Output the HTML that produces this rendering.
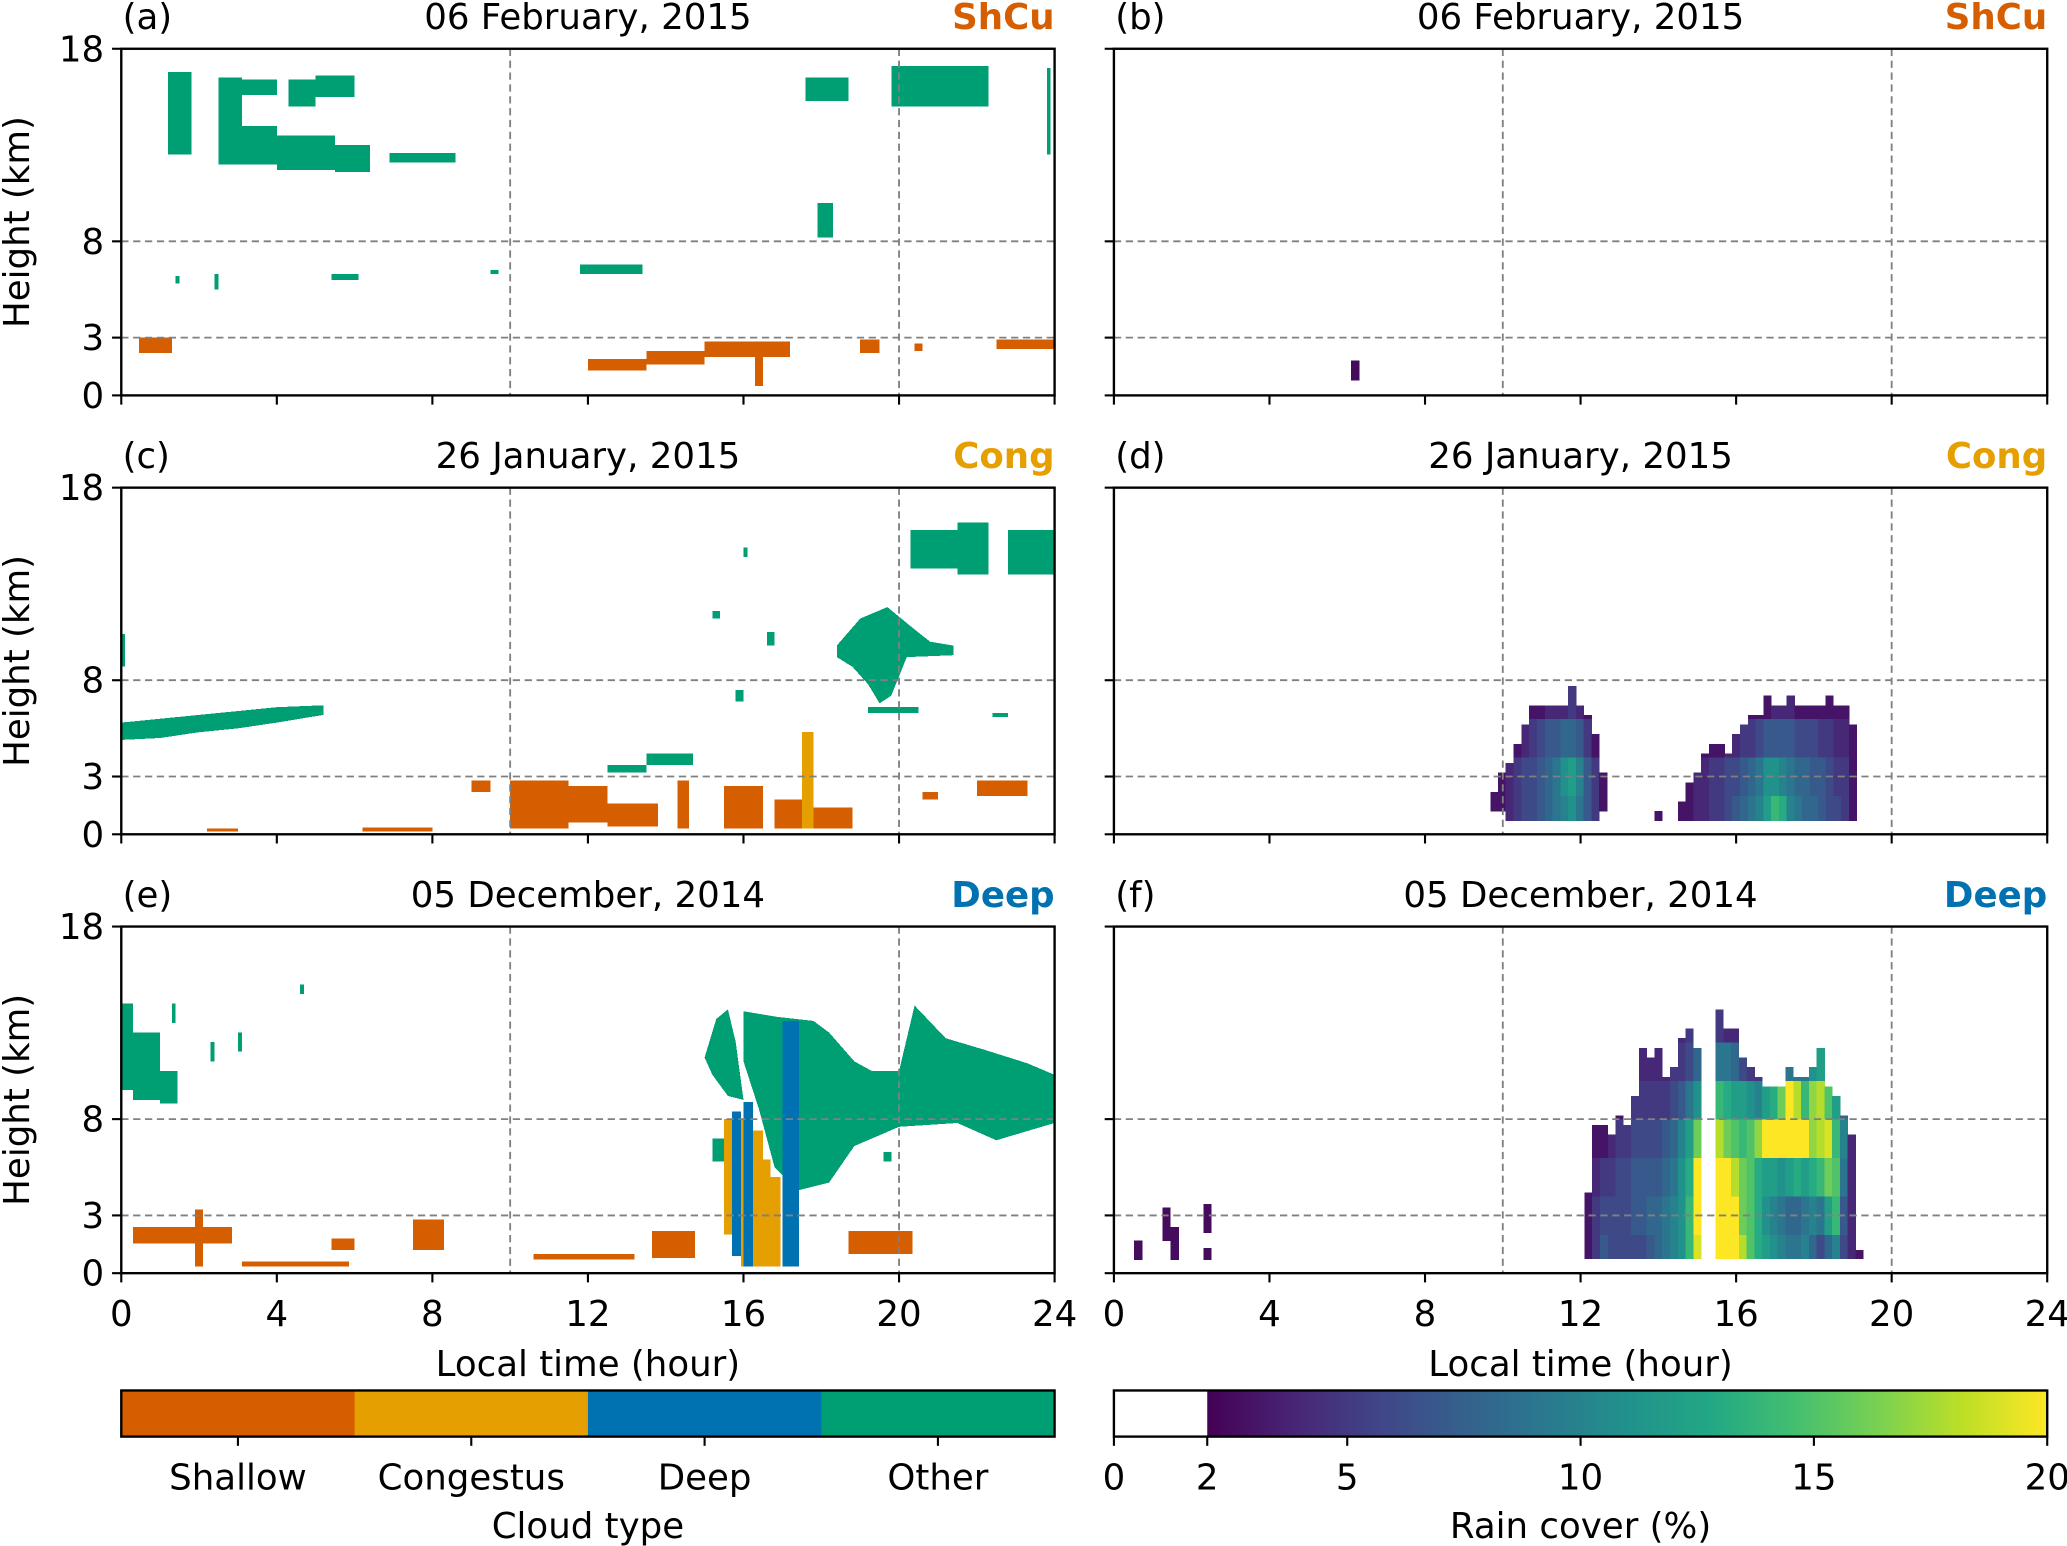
<!DOCTYPE html>
<html><head><meta charset="utf-8"><title>Cloud type and rain cover</title>
<style>
html,body{margin:0;padding:0;background:#fff;}
svg{display:block;font-family:"DejaVu Sans","Liberation Sans",sans-serif;}
</style></head>
<body>
<svg id="fig" width="2067" height="1546" viewBox="0 0 1568 1173" preserveAspectRatio="none" xmlns="http://www.w3.org/2000/svg"></svg>
<script>
// ---------------- DATA ----------------
const typeNames = ["Shallow","Congestus","Deep","Other"];
const xTicks = [0,4,8,12,16,20,24];
const yTicks = [0,3,8,18];
const rainTicks = [0,2,5,10,15,20];
const titles = ["06 February, 2015","26 January, 2015","05 December, 2014"];
const caseLabels = ["ShCu","Cong","Deep"];
const panelLetters = [["(a)","(b)"],["(c)","(d)"],["(e)","(f)"]];

// cloud masks: [type, t0, t1, zbot, ztop]
const cloudsA = [
[3,1.2,1.8,12.5,16.8],[3,2.5,3.1,14.0,16.5],[3,3.1,4.0,15.6,16.4],[3,4.3,5.0,15.0,16.4],[3,5.0,6.0,15.5,16.6],
[3,2.5,4.0,12.0,14.0],[3,4.0,5.5,11.7,13.5],[3,5.5,6.4,11.6,13.0],[3,6.9,8.6,12.1,12.6],
[3,17.6,18.7,15.3,16.5],[3,19.8,22.3,15.0,17.1],[3,23.8,23.9,12.5,17.0],
[3,11.8,13.4,6.3,6.8],[3,5.4,6.1,6.0,6.3],[3,1.4,1.5,5.8,6.2],[3,2.4,2.5,5.5,6.3],[3,9.5,9.7,6.3,6.5],[3,17.9,18.3,8.2,10.0],
[0,0.45,1.3,2.2,3.0],[0,12.0,13.5,1.3,1.9],[0,13.5,15.0,1.6,2.3],[0,15.0,17.2,2.0,2.8],[0,16.3,16.5,0.5,2.2],
[0,19.0,19.5,2.2,2.9],[0,20.4,20.6,2.3,2.7],[0,22.5,24,2.4,2.9]
];
const cloudsC = [
[3,0,0.1,8.7,10.4],[3,20.3,21.5,13.8,15.8],[3,21.5,22.3,13.5,16.2],[3,22.8,24,13.5,15.8],
[3,19.2,20.5,6.3,6.6],[3,12.5,13.5,3.2,3.6],[3,13.5,14.7,3.6,4.2],
[3,16.0,16.1,14.4,14.9],[3,16.6,16.8,9.8,10.5],[3,15.2,15.4,11.2,11.6],[3,15.8,16.0,6.9,7.5],[3,22.4,22.8,6.1,6.3],
[0,9.0,9.5,2.2,2.8],[0,10.0,11.5,0.3,2.8],[0,11.5,12.5,0.6,2.5],[0,12.5,13.8,0.4,1.6],[0,14.3,14.6,0.3,2.8],
[0,15.5,16.5,0.3,2.5],[0,16.8,17.5,0.3,1.8],[0,17.8,18.8,0.3,1.4],[0,20.6,21.0,1.8,2.2],[0,22.0,23.3,2.0,2.8],
[0,2.2,3.0,0.15,0.3],[0,6.2,8.0,0.15,0.35],
[1,17.5,17.8,0.3,5.3]
];
const cloudsE = [
[3,0,0.3,9.5,14.0],[3,0.3,1.0,9.0,12.5],[3,1.0,1.45,8.8,10.5],
[3,2.3,2.4,11,12],[3,3.0,3.1,11.5,12.5],[3,4.6,4.7,14.5,15],[3,1.3,1.4,13,14],
[3,15.2,15.6,5.8,7.0],[3,19.6,19.8,5.8,6.3],
[2,17.0,17.43,0.35,13.1],[2,15.7,15.93,0.9,8.4],[2,16.0,16.25,0.35,8.9],
[1,15.93,16.0,0.35,8.0],[1,16.25,16.5,0.35,7.4],[1,16.5,16.7,0.35,5.9],[1,16.7,16.95,0.35,5.0],[1,15.5,15.7,2.0,8.0],
[0,0.3,2.85,1.55,2.4],[0,1.9,2.1,0.35,3.3],[0,3.1,5.85,0.35,0.6],[0,5.4,6.0,1.2,1.8],[0,7.5,8.3,1.2,2.8],
[0,10.6,13.2,0.7,1.0],[0,13.65,14.75,0.8,2.2],[0,18.7,20.35,1.0,2.2]
];
// polygon clouds ("Other"): [t, z] vertices
const polyC = [
[[0,5.8],[1,6.0],[2,6.2],[3,6.4],[4,6.6],[5.2,6.7],[5.2,6.2],[4,5.8],[3,5.5],[2,5.3],[1,5.0],[0,4.9]],
[[18.4,9.8],[19,11.2],[19.7,11.8],[20.3,10.8],[20.8,10],[21.4,9.8],[21.4,9.3],[20.2,9.2],[20,8.2],[19.8,7.2],[19.5,6.8],[19.2,7.8],[18.8,8.7],[18.4,9.2]]
];
const polyE = [
[[16.0,13.6],[16.9,13.3],[17.8,13.1],[18.2,12.5],[18.85,11],[19.3,10.5],[20,10.5],[20.4,13.9],[21.2,12.2],[22.2,11.6],[23.3,10.9],[24,10.3],[24,7.8],[22.5,6.9],[21.5,7.8],[20,7.6],[18.85,6.6],[18.2,4.7],[17.4,4.3],[16.8,5.5],[16.4,8.5],[16.0,11]],
[[15.0,11.2],[15.3,13.2],[15.6,13.7],[15.8,12],[16.0,9.0],[15.6,9.2],[15.2,10.3]]
];

// rain cover: column start time (0.2 h wide), bottom, top, values per 2-km band
const rainBt = [6.1];
const rainBbot = [0.8];
const rainBtop = [1.8];
const rainBvals = [[2.5]];

const rainDt = [9.68,9.88,10.07,10.28,10.48,10.68,10.88,11.08,11.28,11.48,11.68,11.88,12.08,12.28,12.48,
13.9,14.5,14.7,14.9,15.1,15.3,15.5,15.7,15.9,16.1,16.3,16.5,16.7,16.9,17.1,17.3,17.5,17.7,17.9,18.1,18.3,18.5,18.7,18.9];
const rainDbot = [1.2,1.2,0.7,0.7,0.7,0.7,0.7,0.7,0.7,0.7,0.7,0.7,0.7,0.7,1.2,
0.7,0.7,0.7,0.7,0.7,0.7,0.7,0.7,0.7,0.7,0.7,0.7,0.7,0.7,0.7,0.7,0.7,0.7,0.7,0.7,0.7,0.7,0.7,0.7];
const rainDtop = [2.2,3.2,3.7,4.7,5.7,6.7,6.7,6.7,6.7,6.7,7.7,6.7,6.2,5.2,3.2,
1.2,1.7,2.7,3.2,4.2,4.7,4.7,4.2,5.2,5.7,6.2,6.2,7.2,6.7,6.7,7.2,6.7,6.7,6.7,6.7,7.2,6.7,6.7,5.7];
const rainDvals = [[3],[3,3],[4,4],[5,5,3],[6,6,4],[6,6,5,3],[7,7,6,3],[8,8,7,4],[9,9,7,4],[10,11,8,4],[11,12,8,5],[9,10,7,4],[7,7,5,3],[5,5,3],[3,3],
[3],[3],[3,3],[4,4],[4,4,3],[5,5,3],[5,5,3],[6,6,4],[7,6,4],[8,7,5],[9,8,5,3],[10,9,6,3],[12,11,7,3],[14,11,7,4],[13,10,7,4],[10,9,7,4],[9,8,6,3],[8,8,6,3],[8,7,6,3],[7,7,5,3],[6,6,5,3],[6,5,4,3],[5,5,4,3],[3,3,3]];

const rainFt = [12.1,12.3,12.5,12.7,12.9,13.1,13.3,13.5,13.7,13.9,14.1,14.3,14.5,14.7,14.9,
15.47,15.67,15.87,16.07,16.27,16.47,16.67,16.87,17.07,17.27,17.47,17.67,17.87,18.07,18.27,18.47,18.67,18.87,19.07,
0.52,1.25,1.46,1.46,2.3,2.3];
const rainFbot = [0.75,0.75,0.75,0.75,0.75,0.75,0.75,0.75,0.75,0.75,0.75,0.75,0.75,0.75,0.75,
0.75,0.75,0.75,0.75,0.75,0.75,0.75,0.75,0.75,0.75,0.75,0.75,0.75,0.75,0.75,0.75,0.75,0.75,0.75,
0.7,1.7,1.4,0.7,2.1,0.7];
const rainFtop = [4.2,7.7,7.7,7.2,8.2,7.7,9.2,11.7,11.2,11.7,10.2,10.7,12.2,12.7,11.7,
13.7,12.7,12.7,11.2,10.7,10.2,9.7,9.7,9.7,10.7,10.2,10.2,10.7,11.7,9.7,9.2,8.2,7.2,1.2,
1.7,3.4,2.4,1.4,3.6,1.3];
const rainFvals = [[3],[5,5,4,3],[7,6,5,3],[6,6,5,4,3],[6,6,6,5,3],[6,6,6,5,4],[6,7,7,6,5,3],[6,7,7,6,5,4],[7,8,7,6,5,4],[8,8,7,6,5,4],[9,9,8,7,5,4],[10,10,9,8,6,5,3],[11,11,11,10,7,5,4],[14,14,13,12,9,6,5],[19,20,20,16,11,8,6],
[20,20,20,18,14,9,5],[20,20,20,16,13,9,4],[20,20,18,15,12,8,4],[18,16,16,14,12,6],[15,15,15,15,11,5],[13,13,13,17,10,5],[12,11,12,20,12,6],[11,10,12,20,13,6],[10,9,11,20,16,8],[9,8,12,20,20,9],[9,8,13,20,18,9],[10,9,12,20,14,9],[8,10,13,17,17,11],[6,9,14,18,18,12],[8,12,16,19,15,8],[10,14,15,14,12],[6,7,9,10,8],[4,4,4,4,4],[3],
[2.5],[2.5],[2.5],[2.5],[2.5],[2.5]];

// ---------------- RENDERING ----------------
const NS = "http://www.w3.org/2000/svg";
const svg = document.getElementById('fig');
const FS = 27;
const typeColors = ["#d55e00","#e69f00","#0072b2","#009e73"];
const viridis = ["#440154","#482475","#414487","#355f8d","#2a788e","#21918c","#22a884","#44bf70","#7ad151","#bddf26","#fde725"];
function hex(c){return [parseInt(c.substr(1,2),16),parseInt(c.substr(3,2),16),parseInt(c.substr(5,2),16)];}
function vcol(v){
  let f=(v-2)/18; f=Math.max(0,Math.min(1,f));
  const p=f*(viridis.length-1), i=Math.min(Math.floor(p),viridis.length-2), r=p-i;
  const a=hex(viridis[i]), b=hex(viridis[i+1]);
  return "rgb("+a.map((x,k)=>Math.round(x+(b[k]-x)*r)).join(",")+")";
}
function mk(tag, attrs, parent){
  const e=document.createElementNS(NS,tag);
  for(const k in attrs) e.setAttribute(k, attrs[k]);
  (parent||svg).appendChild(e); return e;
}
function txt(s, x, y, size, anchor, parent, extra){
  const e=mk('text',Object.assign({x:x,y:y,'font-size':size,'text-anchor':anchor||'middle',fill:'#000'},extra||{}),parent);
  e.textContent=s; return e;
}
const colX=[92,845], rowY=[37,370,703], PW=708, PH=263;
function xs(c,t){return colX[c]+t/24*PW;}
function ys(r,z){return rowY[r]+PH-z/18*PH;}

const cloudSets=[cloudsA,cloudsC,cloudsE];
const polySets=[[],polyC,polyE];
const rainSets=[[rainBt,rainBbot,rainBtop,rainBvals],[rainDt,rainDbot,rainDtop,rainDvals],[rainFt,rainFbot,rainFtop,rainFvals]];

for(let r=0;r<3;r++){
  for(let c=0;c<2;c++){
    const g=mk('g',{});
    
    
    if(c===0){
      const cg=mk('g',{'shape-rendering':'crispEdges'},g);
      
      
      polySets[r].forEach(poly=>{
        const p=mk('polygon',{points:poly.map(q=>xs(c,q[0])+","+ys(r,q[1])).join(" "),fill:typeColors[3]},cg);
        
        
      });
      cloudSets[r].forEach(d=>{
        const x0=xs(c,d[1]),x1=xs(c,d[2]),y0=ys(r,d[4]),y1=ys(r,d[3]);
        const e=mk('rect',{x:x0,y:y0,width:Math.max(1.2,x1-x0),height:y1-y0,fill:typeColors[d[0]]},cg);
        
        
      });
    } else {
      const rg=mk('g',{'shape-rendering':'crispEdges'},g);
      
      
      const [ts,bs,tops,vals]=rainSets[r];
      ts.forEach((t,i)=>{
        const x0=xs(c,t), x1=xs(c,t+0.2);
        const bot=bs[i], top=tops[i], v=vals[i];
        for(let b=0;b*2<top;b++){
          const zb=Math.max(bot,b*2), zt=Math.min(top,b*2+2);
          if(zt<=zb) continue;
          const val=v[Math.min(b,v.length-1)];
          const e=mk('rect',{x:x0,y:ys(r,zt),width:x1-x0+0.3,height:ys(r,zb)-ys(r,zt)+0.3,fill:vcol(val)},rg);
          
          
        }
      });
    }
    [10,20].forEach(t=>mk('line',{x1:xs(c,t),x2:xs(c,t),y1:rowY[r],y2:rowY[r]+PH,stroke:'#808080','stroke-width':1.4,'stroke-dasharray':'5.5,3.5'},g));
    [3,8].forEach(z=>mk('line',{x1:colX[c],x2:colX[c]+PW,y1:ys(r,z),y2:ys(r,z),stroke:'#808080','stroke-width':1.4,'stroke-dasharray':'5.5,3.5'},g));
    const fr=mk('rect',{x:colX[c],y:rowY[r],width:PW,height:PH,fill:'none',stroke:'#000','stroke-width':1.8},g);
    
    
    xTicks.forEach(t=>{
      mk('line',{x1:xs(c,t),x2:xs(c,t),y1:rowY[r]+PH,y2:rowY[r]+PH+7,stroke:'#000','stroke-width':1.6},g);
      if(r===2){
        const e=txt(String(t),xs(c,t),rowY[r]+PH+40,FS,'middle',g);
        
        
      }
    });
    yTicks.forEach(z=>{
      mk('line',{x1:colX[c]-7,x2:colX[c],y1:ys(r,z),y2:ys(r,z),stroke:'#000','stroke-width':1.6},g);
      if(c===0){
        const e=txt(String(z),colX[c]-13,ys(r,z)+9.5,FS,'end',g);
        
        
      }
    });
    if(c===0){
      const cy=rowY[r]+PH/2;
      const e=txt("Height (km)",22,cy,FS,'middle',g,{transform:'rotate(-90 22 '+cy+')'});
      
      
    }
    if(r===2){
      const e=txt("Local time (hour)",colX[c]+PW/2,rowY[r]+PH+78,FS,'middle',g);
      
      
    }
    const by=rowY[r]-15;
    const l=txt(panelLetters[r][c],colX[c]+1,by,FS,'start',g);
    
    
    const tt=txt(titles[r],colX[c]+PW/2,by,FS,'middle',g);
    
    
    const cl=txt(caseLabels[r],colX[c]+PW,by,FS,'end',g,{'font-weight':'bold',fill:typeColors[r]});
    
    
  }
}

// colorbars
const cbY=1055, cbH=35;
const cb1=mk('g',{});


typeNames.forEach((n,i)=>{
  const w=PW/typeNames.length, x=colX[0]+i*w;
  const e=mk('rect',{x:x,y:cbY,width:w+0.3,height:cbH,fill:typeColors[i]},cb1);
  
  
  mk('line',{x1:x+w/2,x2:x+w/2,y1:cbY+cbH,y2:cbY+cbH+7,stroke:'#000','stroke-width':1.6},cb1);
  const t=txt(n,x+w/2,cbY+cbH+40,FS,'middle',cb1);
  
  
});
mk('rect',{x:colX[0],y:cbY,width:PW,height:cbH,fill:'none',stroke:'#000','stroke-width':1.8},cb1);
const ct=txt("Cloud type",colX[0]+PW/2,cbY+cbH+77,FS,'middle',cb1);



const cb2=mk('g',{});


function cx(v){return colX[1]+v/20*PW;}
const defs=mk('defs',{});
const lg=mk('linearGradient',{id:'vir',x1:0,x2:1,y1:0,y2:0},defs);
viridis.forEach((c,i)=>mk('stop',{offset:(i/(viridis.length-1)*100)+'%','stop-color':c},lg));
mk('rect',{x:cx(0),y:cbY,width:cx(2)-cx(0),height:cbH,fill:'#fff'},cb2);
const gr=mk('rect',{x:cx(2),y:cbY,width:cx(20)-cx(2),height:cbH,fill:'url(#vir)'},cb2);


mk('rect',{x:colX[1],y:cbY,width:PW,height:cbH,fill:'none',stroke:'#000','stroke-width':1.8},cb2);
rainTicks.forEach(v=>{
  mk('line',{x1:cx(v),x2:cx(v),y1:cbY+cbH,y2:cbY+cbH+7,stroke:'#000','stroke-width':1.6},cb2);
  const t=txt(String(v),cx(v),cbY+cbH+40,FS,'middle',cb2);
  
  
});
const rt=txt("Rain cover (%)",colX[1]+PW/2,cbY+cbH+77,FS,'middle',cb2);


</script>
</body></html>
